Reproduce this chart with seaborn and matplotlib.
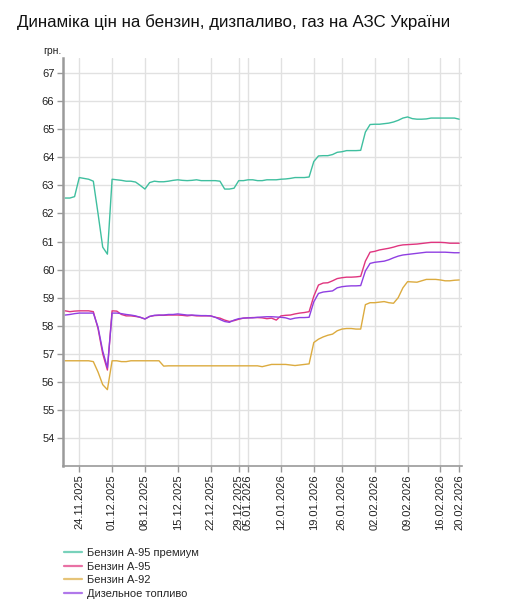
import numpy as np
import pandas as pd
import matplotlib
matplotlib.use("Agg")
import matplotlib.pyplot as plt
import seaborn as sns

# ---------------- data ----------------
series_names = ["Бензин А-95 премиум", "Бензин А-95", "Бензин А-92", "Дизельное топливо"]
series_colors = ["#3fbf9f", "#e0357f", "#dcab3f", "#8f3fe2"]

tick_positions = [3, 10, 17, 24, 31, 37, 39, 46, 53, 59, 66, 73, 80, 84]
tick_labels = ["24.11.2025", "01.12.2025", "08.12.2025", "15.12.2025", "22.12.2025",
               "29.12.2025", "05.01.2026", "12.01.2026", "19.01.2026", "26.01.2026",
               "02.02.2026", "09.02.2026", "16.02.2026", "20.02.2026"]

a95_premium = [62.55, 62.55, 62.6, 63.28, 63.25, 63.22, 63.15, 62.0, 60.8, 60.55,
               63.22, 63.2, 63.18, 63.15, 63.15, 63.12, 63.0, 62.87, 63.1, 63.15,
               63.13, 63.13, 63.15, 63.18, 63.2, 63.18, 63.17, 63.18, 63.2, 63.17,
               63.17, 63.17, 63.17, 63.15, 62.87, 62.87, 62.9, 63.17, 63.17, 63.2,
               63.2, 63.17, 63.17, 63.2, 63.2, 63.2, 63.22, 63.23, 63.25, 63.28,
               63.28, 63.28, 63.3, 63.85, 64.05, 64.06, 64.06, 64.1, 64.18, 64.2,
               64.24, 64.24, 64.24, 64.25, 64.9, 65.17, 65.18, 65.18, 65.2, 65.22,
               65.26, 65.32, 65.4, 65.44, 65.38, 65.36, 65.36, 65.37, 65.4, 65.4,
               65.4, 65.4, 65.4, 65.4, 65.36]

a95 = [58.53, 58.5, 58.52, 58.53, 58.53, 58.53, 58.5, 57.9, 57.0, 56.42,
       58.53, 58.52, 58.4, 58.35, 58.35, 58.33, 58.3, 58.24, 58.33, 58.36,
       58.37, 58.37, 58.38, 58.38, 58.38, 58.37, 58.35, 58.37, 58.35, 58.35,
       58.35, 58.35, 58.3, 58.27, 58.2, 58.15, 58.18, 58.23, 58.27, 58.28,
       58.29, 58.29, 58.28, 58.25, 58.27, 58.2, 58.35, 58.37, 58.38, 58.42,
       58.45, 58.47, 58.5, 59.05, 59.45, 59.52, 59.53, 59.6, 59.68, 59.71,
       59.73, 59.73, 59.74, 59.76, 60.3, 60.62, 60.65, 60.7, 60.73, 60.76,
       60.8, 60.85, 60.88, 60.89, 60.9, 60.91, 60.93, 60.95, 60.97, 60.97,
       60.97, 60.96, 60.94, 60.94, 60.94]

a92 = [56.75, 56.75, 56.75, 56.75, 56.75, 56.75, 56.72, 56.35, 55.9, 55.72,
       56.75, 56.75, 56.72, 56.72, 56.75, 56.75, 56.75, 56.75, 56.75, 56.75,
       56.75, 56.56, 56.57, 56.57, 56.57, 56.57, 56.57, 56.57, 56.57, 56.57,
       56.57, 56.57, 56.57, 56.57, 56.57, 56.57, 56.57, 56.57, 56.57, 56.57,
       56.57, 56.57, 56.54, 56.58, 56.62, 56.62, 56.62, 56.62, 56.6, 56.58,
       56.6, 56.62, 56.64, 57.4, 57.52, 57.6, 57.66, 57.7, 57.82, 57.88,
       57.9, 57.9, 57.88, 57.88, 58.75, 58.82, 58.82, 58.84, 58.86, 58.82,
       58.8, 59.0, 59.35, 59.57, 59.56, 59.55, 59.6, 59.65, 59.65, 59.65,
       59.63, 59.6, 59.6, 59.62, 59.63]

diesel = [58.38, 58.4, 58.43, 58.45, 58.45, 58.45, 58.45, 57.95, 57.1, 56.5,
          58.45, 58.45, 58.43, 58.4, 58.38, 58.35, 58.3, 58.24, 58.33, 58.37,
          58.38, 58.38, 58.4, 58.4, 58.42, 58.4, 58.38, 58.38, 58.37, 58.36,
          58.36, 58.35, 58.3, 58.22, 58.15, 58.12, 58.2, 58.25, 58.27, 58.28,
          58.28, 58.3, 58.31, 58.32, 58.32, 58.31, 58.3, 58.28, 58.23, 58.27,
          58.29, 58.29, 58.3, 58.85, 59.15, 59.2, 59.22, 59.24, 59.35, 59.39,
          59.41, 59.42, 59.42, 59.43, 59.95, 60.22, 60.26, 60.28, 60.3, 60.35,
          60.42, 60.48, 60.52, 60.54, 60.56, 60.58, 60.6, 60.62, 60.62, 60.62,
          60.62, 60.62, 60.61, 60.6, 60.6]

y_ticks = list(range(54, 68))

# ---------------- build frame ----------------
all_series = [a95_premium, a95, a92, diesel]
frames = []
for name, vals in zip(series_names, all_series):
    frames.append(pd.DataFrame({"idx": np.arange(len(vals)), "price": vals, "fuel": name}))
df = pd.concat(frames, ignore_index=True)

# ---------------- style ----------------
sns.set_theme(style="white")
plt.rcParams["font.family"] = ["Liberation Sans", "DejaVu Sans"]

fig = plt.figure(figsize=(5.17, 6.0), dpi=100)
ax = fig.add_axes([62.7 / 517, 1 - 466 / 600, (462 - 62.7) / 517, (466 - 58.3) / 600])

sns.lineplot(data=df, x="idx", y="price", hue="fuel", hue_order=series_names,
             palette=series_colors, linewidth=1.0, ax=ax, legend=True)

ax.set_xlim(-0.53, 84.6)
ax.set_ylim(53.0, 67.53)
ax.set_xticks(tick_positions)
ax.set_xticklabels(tick_labels, rotation=90, fontsize=8, color="#222222")
ax.set_yticks(y_ticks)
ax.set_yticklabels([str(v) for v in y_ticks], fontsize=8, color="#222222")
ax.set_xlabel("")
ax.set_ylabel("")

ax.grid(True, color="#e1e1e1", linewidth=1.0)
ax.set_axisbelow(True)
for s in ["top", "right"]:
    ax.spines[s].set_visible(False)
ax.spines["left"].set_color("#9a9a9a")
ax.spines["left"].set_linewidth(1.8)
ax.spines["bottom"].set_color("#9a9a9a")
ax.spines["bottom"].set_linewidth(1.2)
ax.tick_params(axis="both", which="both", length=4, width=1, color="#9a9a9a", pad=2,
               bottom=True, left=True)

# legend
handles, labels = ax.get_legend_handles_labels()
ax.get_legend().remove()
for h in handles:
    h.set_alpha(0.7)
    h.set_linewidth(1.6)
fig.legend(handles, labels, loc="upper left", bbox_to_anchor=(64 / 517, 1 - 548 / 600),
           frameon=False, fontsize=8, handlelength=1.6, handletextpad=0.5,
           labelspacing=0.33, borderpad=0, borderaxespad=0)

fig.text(17 / 517, 1 - 22 / 600, "Динаміка цін на бензин, дизпаливо, газ на АЗС України",
         fontsize=12.2, ha="left", va="center", color="#111111")
fig.text(52 / 517, 1 - 51 / 600, "грн.", fontsize=7.5, ha="center", va="center", color="#222222")

fig.savefig("out.png", dpi=100)
